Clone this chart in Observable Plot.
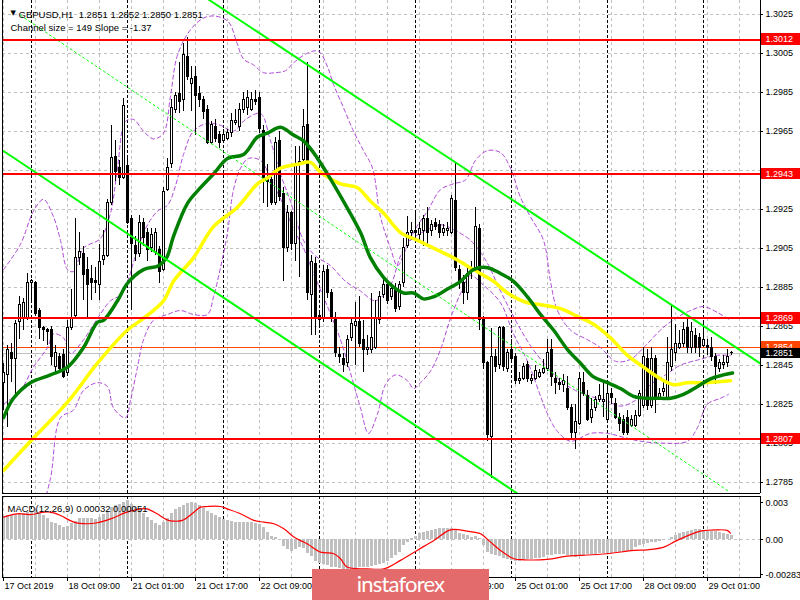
<!DOCTYPE html>
<html><head><meta charset="utf-8">
<script src="https://cdn.jsdelivr.net/npm/d3@7"></script>
<script src="https://cdn.jsdelivr.net/npm/@observablehq/plot@0.6"></script>
<style>
body{margin:0;background:#fff;}
#wrap{position:relative;width:800px;height:600px;overflow:hidden;background:#fff;font-family:"Liberation Sans",Arial,sans-serif;}
#wrap svg{position:absolute;left:0;}
#logo{position:absolute;left:312px;top:569px;width:177px;height:31px;background:#e36b6b;color:#fff;font-family:Lato,"Open Sans",sans-serif;font-size:22px;letter-spacing:-0.8px;text-align:center;line-height:30px;}
</style></head><body><div id="wrap"><div id="logo">instaforex</div></div>
<script>
// ---------- DATA ----------
const opens = [1.2836,1.2840,1.2851,1.2848,1.2867,1.2869,1.2869,1.2887,1.2887,1.2873,
1.2864,1.2863,1.2863,1.2844,1.2849,1.2850,1.2841,1.2864,1.2870,1.2900,
1.2902,1.2894,1.2889,1.2888,1.2886,1.2899,1.2901,1.2928,1.2952,1.2946,
1.2941,1.2947,1.2920,1.2906,1.2902,1.2918,1.2913,1.2905,1.2903,1.2904,
1.2894,1.2935,1.2948,1.2976,1.2984,1.2981,1.3003,1.2989,1.2993,1.2984,
1.2981,1.2976,1.2959,1.2967,1.2963,1.2960,1.2961,1.2964,1.2969,1.2967,
1.2976,1.2977,1.2976,1.2981,1.2982,1.2965,1.2941,1.2940,1.2928,1.2960,
1.2933,1.2905,1.2923,1.2907,1.2948,1.2950,1.2968,1.2881,1.2897,1.2870,
1.2869,1.2894,1.2882,1.2869,1.2850,1.2848,1.2846,1.2859,1.2865,1.2867,
1.2858,1.2853,1.2853,1.2854,1.2868,1.2881,1.2886,1.2880,1.2884,1.2875,
1.2887,1.2906,1.2913,1.2914,1.2912,1.2914,1.2920,1.2914,1.2918,1.2917,
1.2913,1.2914,1.2913,1.2929,1.2894,1.2887,1.2882,1.2893,1.2894,1.2915,
1.2869,1.2846,1.2808,1.2849,1.2845,1.2864,1.2843,1.2853,1.2849,1.2837,
1.2838,1.2845,1.2837,1.2838,1.2839,1.2841,1.2843,1.2853,1.2838,1.2836,
1.2835,1.2833,1.2823,1.2810,1.2815,1.2836,1.2829,1.2818,1.2823,1.2827,
1.2826,1.2817,1.2830,1.2825,1.2818,1.2817,1.2818,1.2814,1.2814,1.2819,
1.2824,1.2848,1.2824,1.2848,1.2828,1.2831,1.2828,1.2844,1.2851,1.2854,
1.2856,1.2864,1.2854,1.2860,1.2859,1.2855,1.2855,1.2854,1.2849,1.2843,
1.2845,1.2846,1.2851];
const closes = [1.2841,1.2853,1.2848,1.2866,1.2876,1.2877,1.2887,1.2888,1.2871,1.2864,
1.2863,1.2862,1.2849,1.2851,1.2843,1.2839,1.2864,1.2869,1.2900,1.2903,
1.2891,1.2886,1.2887,1.2887,1.2898,1.2901,1.2928,1.2951,1.2944,1.2941,
1.2978,1.2918,1.2907,1.2902,1.2918,1.2910,1.2904,1.2912,1.2913,1.2893,
1.2934,1.2946,1.2977,1.2983,1.2980,1.3004,1.2993,1.2992,1.2983,1.2981,
1.2975,1.2959,1.2968,1.2961,1.2959,1.2963,1.2964,1.2970,1.2970,1.2976,
1.2981,1.2982,1.2981,1.2980,1.2966,1.2941,1.2939,1.2928,1.2959,1.2931,
1.2905,1.2923,1.2907,1.2948,1.2949,1.2967,1.2882,1.2898,1.2869,1.2868,
1.2893,1.2882,1.2869,1.2851,1.2849,1.2845,1.2858,1.2866,1.2867,1.2856,
1.2853,1.2854,1.2859,1.2869,1.2880,1.2886,1.2878,1.2884,1.2874,1.2886,
1.2905,1.2913,1.2914,1.2913,1.2915,1.2920,1.2913,1.2917,1.2916,1.2913,
1.2915,1.2915,1.2930,1.2895,1.2887,1.2882,1.2892,1.2894,1.2916,1.2868,
1.2846,1.2809,1.2849,1.2844,1.2864,1.2844,1.2851,1.2848,1.2837,1.2838,
1.2844,1.2838,1.2838,1.2842,1.2841,1.2843,1.2851,1.2839,1.2836,1.2835,
1.2837,1.2823,1.2810,1.2816,1.2838,1.2830,1.2817,1.2822,1.2827,1.2829,
1.2827,1.2830,1.2828,1.2818,1.2815,1.2810,1.2810,1.2817,1.2819,1.2830,
1.2849,1.2824,1.2848,1.2828,1.2830,1.2833,1.2846,1.2853,1.2856,1.2856,
1.2863,1.2854,1.2862,1.2854,1.2854,1.2858,1.2854,1.2849,1.2844,1.2846,
1.2846,1.2849,1.2851];
const highs = [1.2846,1.2855,1.2856,1.2868,1.2880,1.2879,1.2892,1.2889,1.2888,1.2874,
1.2865,1.2864,1.2865,1.2855,1.2851,1.2853,1.2868,1.2884,1.2920,1.2913,
1.2906,1.2900,1.2896,1.2895,1.2907,1.2914,1.2930,1.2968,1.2960,1.2950,
1.2982,1.2951,1.2922,1.2911,1.2922,1.2920,1.2915,1.2915,1.2915,1.2906,
1.2936,1.2951,1.2981,1.2985,1.3000,1.3010,1.3013,1.2998,1.2998,1.2988,
1.2983,1.2978,1.2970,1.2971,1.2965,1.2966,1.2966,1.2974,1.2976,1.2979,
1.2985,1.2986,1.2985,1.2986,1.2985,1.2968,1.2948,1.2942,1.2962,1.2965,
1.2936,1.2927,1.2924,1.2957,1.2957,1.2976,1.3000,1.2901,1.2900,1.2873,
1.2896,1.2896,1.2884,1.2872,1.2854,1.2851,1.2860,1.2869,1.2877,1.2880,
1.2868,1.2860,1.2882,1.2878,1.2883,1.2890,1.2888,1.2887,1.2887,1.2888,
1.2910,1.2921,1.2918,1.2923,1.2918,1.2922,1.2926,1.2919,1.2920,1.2919,
1.2917,1.2918,1.2932,1.2949,1.2896,1.2891,1.2895,1.2898,1.2926,1.2917,
1.2870,1.2847,1.2864,1.2853,1.2865,1.2865,1.2853,1.2858,1.2851,1.2841,
1.2846,1.2847,1.2840,1.2845,1.2843,1.2848,1.2858,1.2858,1.2841,1.2838,
1.2840,1.2839,1.2825,1.2825,1.2841,1.2841,1.2832,1.2828,1.2829,1.2835,
1.2836,1.2836,1.2833,1.2828,1.2820,1.2819,1.2822,1.2819,1.2822,1.2832,
1.2854,1.2853,1.2854,1.2850,1.2833,1.2836,1.2859,1.2875,1.2866,1.2863,
1.2867,1.2869,1.2867,1.2864,1.2861,1.2867,1.2858,1.2859,1.2851,1.2848,
1.2850,1.2853,1.2852];
const lows = [1.2822,1.2813,1.2836,1.2829,1.2858,1.2863,1.2868,1.2878,1.2870,1.2858,
1.2857,1.2855,1.2845,1.2841,1.2841,1.2838,1.2839,1.2863,1.2869,1.2896,
1.2878,1.2869,1.2878,1.2882,1.2878,1.2896,1.2900,1.2927,1.2939,1.2937,
1.2940,1.2917,1.2873,1.2898,1.2900,1.2906,1.2898,1.2903,1.2901,1.2887,
1.2893,1.2934,1.2946,1.2974,1.2974,1.2975,1.2991,1.2975,1.2963,1.2977,
1.2971,1.2958,1.2958,1.2959,1.2956,1.2959,1.2960,1.2962,1.2968,1.2965,
1.2974,1.2973,1.2975,1.2978,1.2964,1.2928,1.2926,1.2927,1.2927,1.2929,
1.2888,1.2903,1.2904,1.2898,1.2890,1.2949,1.2878,1.2860,1.2860,1.2864,
1.2867,1.2879,1.2867,1.2849,1.2846,1.2841,1.2844,1.2857,1.2845,1.2854,
1.2841,1.2850,1.2851,1.2853,1.2866,1.2879,1.2876,1.2878,1.2872,1.2873,
1.2885,1.2905,1.2909,1.2910,1.2909,1.2906,1.2907,1.2911,1.2914,1.2910,
1.2911,1.2911,1.2912,1.2893,1.2884,1.2876,1.2878,1.2889,1.2893,1.2863,
1.2843,1.2806,1.2787,1.2841,1.2843,1.2842,1.2841,1.2846,1.2835,1.2835,
1.2837,1.2836,1.2835,1.2837,1.2838,1.2840,1.2842,1.2834,1.2830,1.2832,
1.2831,1.2822,1.2807,1.2802,1.2814,1.2829,1.2816,1.2815,1.2821,1.2826,
1.2818,1.2815,1.2825,1.2817,1.2811,1.2809,1.2809,1.2813,1.2813,1.2818,
1.2823,1.2822,1.2823,1.2820,1.2827,1.2829,1.2827,1.2842,1.2847,1.2853,
1.2854,1.2851,1.2851,1.2851,1.2849,1.2854,1.2850,1.2847,1.2835,1.2841,
1.2843,1.2844,1.2850];

// moving averages [bar, price]
const maGreen = [[0,1.2818],[2.5,1.2828],[6.75,1.2836],[11.75,1.2840],[16,1.2844],[20,1.2854],[23.5,1.2867],[25,1.2868],[28.5,1.2878],[31,1.2887],[35,1.2894],[38.75,1.2896],[40.75,1.2900],[42.5,1.2911],[46,1.2928],[49.25,1.2936],[52.5,1.2943],[56,1.2951],[60,1.2953],[63.5,1.2962],[66,1.2964],[69.25,1.2967],[72.5,1.2963],[75,1.2960],[77.5,1.2954],[81,1.2943],[85,1.2929],[89.25,1.2913],[91.75,1.2900],[95,1.2890],[97.5,1.2885],[100,1.2882],[102.5,1.2882],[105,1.2879],[107.5,1.2880],[111,1.2884],[114.25,1.2888],[117.5,1.2894],[121,1.2895],[124.25,1.2892],[127.5,1.2888],[131,1.2880],[134.25,1.2871],[137.5,1.2863],[141,1.2853],[144.25,1.2846],[147.5,1.2839],[151,1.2836],[154.25,1.2833],[157.5,1.2829],[161,1.2828],[164.25,1.2828],[166.75,1.2828],[170,1.2830],[173.5,1.2834],[176.75,1.2838],[180,1.2840],[182.25,1.2841]];
const maYellow = [[0,1.2791],[6.75,1.2806],[16,1.2826],[23.5,1.2846],[31,1.2863],[35,1.2869],[40,1.2878],[42.5,1.2888],[47.5,1.2900],[52.5,1.2916],[58.5,1.2926],[63.5,1.2938],[66,1.2941],[69.25,1.2946],[73.5,1.2948],[76.75,1.2949],[79.25,1.2944],[84.25,1.2938],[88.5,1.2936],[91.75,1.2929],[95,1.2923],[99.25,1.2913],[103.5,1.2909],[107.5,1.2905],[112.5,1.2900],[117.5,1.2894],[122.5,1.2888],[126,1.2882],[131,1.2877],[134.25,1.2876],[139.25,1.2874],[143.5,1.2870],[147.5,1.2866],[151.75,1.2859],[156,1.2850],[160,1.2844],[164.25,1.2838],[167.5,1.2835],[171,1.2836],[175,1.2836],[181.75,1.2837]];
// bollinger bands [bar, price]
const bbUpper = [[0,1.2894],[4.25,1.2907],[7.5,1.2924],[10,1.2930],[12.5,1.2921],[14.25,1.2909],[16,1.2894],[17.5,1.2893],[20,1.2905],[24.25,1.2910],[26.75,1.2923],[28.5,1.2946],[30.5,1.2970],[32.5,1.2971],[35,1.2965],[37.5,1.2961],[40,1.2964],[41.75,1.2983],[43.5,1.3004],[46.75,1.3017],[50,1.3023],[53,1.3024],[56.25,1.3021],[58.25,1.3011],[60,1.3002],[62.5,1.2999],[65,1.2995],[68,1.2995],[70.5,1.2996],[72.5,1.3000],[76,1.3005],[78.75,1.3006],[81,1.2998],[82.5,1.2989],[85,1.2977],[87.5,1.2965],[90,1.2955],[92.25,1.2946],[94.25,1.2921],[96.75,1.2905],[98.5,1.2896],[100.5,1.2904],[103,1.2915],[106,1.2924],[109.25,1.2935],[112.5,1.2938],[115.5,1.2940],[118,1.2950],[121,1.2955],[124.25,1.2954],[126.75,1.2946],[129.25,1.2931],[131.75,1.2921],[135,1.2909],[136.75,1.2888],[138.5,1.2873],[141.75,1.2863],[146,1.2858],[149.25,1.2854],[153,1.2847],[156.75,1.2848],[160.5,1.2855],[164.25,1.2863],[168,1.2869],[171.75,1.2873],[175,1.2875],[178.5,1.2872],[181.75,1.2868]];
const bbMiddle = [[0,1.2825],[4.25,1.2832],[7.5,1.2844],[11,1.2854],[12.5,1.2861],[15,1.2859],[16.75,1.2851],[20,1.2858],[23.5,1.2869],[26.75,1.2878],[29.25,1.2881],[31,1.2888],[33,1.2901],[35.5,1.2915],[38.5,1.2924],[41,1.2927],[43,1.2937],[45,1.2953],[47.5,1.2965],[51,1.2969],[54.25,1.2968],[57.5,1.2965],[60.5,1.2971],[64.25,1.2974],[66.75,1.2960],[69.25,1.2943],[71.75,1.2929],[75,1.2909],[78,1.2901],[81.75,1.2896],[85.5,1.2888],[89.25,1.2883],[93,1.2878],[96.75,1.2886],[99.25,1.2901],[101.75,1.2909],[105.5,1.2914],[109.25,1.2917],[113,1.2914],[116.75,1.2909],[120.5,1.2899],[124.25,1.2883],[128,1.2868],[131.75,1.2855],[135.5,1.2845],[139.25,1.2837],[143,1.2832],[146.75,1.2829],[150.5,1.2827],[154.25,1.2824],[158,1.2827],[161.75,1.2835],[165.5,1.2840],[169.25,1.2845],[174.25,1.2848],[178,1.2850],[181.75,1.2850]];
const bbLower = [[9.25,1.2768],[11.75,1.2787],[14.25,1.2818],[17.5,1.2822],[20,1.2832],[23.5,1.2836],[26,1.2834],[27.5,1.2823],[30.5,1.2818],[31.75,1.2827],[33.5,1.2844],[35,1.2858],[37.5,1.2868],[41,1.2871],[44.25,1.2873],[47.5,1.2871],[51,1.2871],[52.5,1.2880],[54.25,1.2895],[56,1.2913],[57.5,1.2935],[59.25,1.2946],[61.25,1.2951],[64.25,1.2950],[66.75,1.2941],[70,1.2927],[72.5,1.2915],[75,1.2905],[77.5,1.2892],[81,1.2875],[84.25,1.2858],[86.75,1.2841],[89.25,1.2823],[91.25,1.2810],[93.5,1.2820],[95.5,1.2835],[98,1.2840],[101,1.2837],[102.5,1.2833],[104.25,1.2836],[106.75,1.2842],[109.25,1.2853],[111.75,1.2869],[115,1.2885],[116.75,1.2891],[120,1.2886],[124.25,1.2877],[127.5,1.2861],[131,1.2847],[136,1.2820],[138.5,1.2811],[141.75,1.2806],[146.75,1.2810],[151,1.2810],[155,1.2808],[159.25,1.2806],[165,1.2805],[171,1.2806],[173.5,1.2813],[176,1.2825],[179.25,1.2828],[181.25,1.2830]];
// regression channel [bar, price]
const channelUpper = [[50,1.30342],[189.25,1.28458]];
const channelMiddle = [[4.25,1.30244],[181,1.27807]];
const channelLower = [[0,1.29548],[130,1.27771]];
// horizontal levels
const levels = [1.3012, 1.2943, 1.2869, 1.2807];
const askPrice = 1.2854;
const bidPrice = 1.2851;
const priceTicks = [1.3025,1.3005,1.2985,1.2965,1.2945,1.2925,1.2905,1.2885,1.2865,1.2845,1.2825,1.2805,1.2785];
const hiddenPriceLabels = [1.2945];
// time axis
const gridIdx = [0,8,16,24,32,40,48,56,64,72,80,88,96,104,112,120,128,136,144,152,160,168,176,184];
const daySepIdx = [7,31,55,79,103,127,151,175];
const timeTickIdx = [0,16,32,48,64,80,96,112,128,144,160,176];
const timeTickLabels = ["17 Oct 2019","18 Oct 09:00","21 Oct 01:00","21 Oct 17:00","22 Oct 09:00","23 Oct 01:00","23 Oct 17:00","24 Oct 09:00","25 Oct 01:00","25 Oct 17:00","28 Oct 09:00","29 Oct 01:00"];
const labelsUnderLogo = ["23 Oct 01:00","23 Oct 17:00"];
// MACD
const macdHist = [0.00189,0.00194,0.0020,0.00205,0.00211,0.00216,0.00221,0.00232,0.00238,0.00224,
0.00197,0.0017,0.00143,0.0013,0.00116,0.00103,0.00108,0.0013,0.00151,0.0017,
0.00173,0.00173,0.00173,0.00167,0.00178,0.00205,0.00232,0.00259,0.00275,0.00286,
0.00305,0.00319,0.00286,0.00259,0.00238,0.00211,0.00184,0.00157,0.00135,0.00119,
0.0014,0.00173,0.00211,0.00243,0.00259,0.00281,0.00297,0.00302,0.00297,0.00281,
0.00254,0.00232,0.00216,0.0020,0.00184,0.00167,0.00157,0.00151,0.00143,0.0014,
0.0014,0.0014,0.0014,0.00135,0.00124,0.00097,0.00062,0.00027,0.00016,0.00005,
-0.00054,-0.00081,-0.00097,-0.00081,-0.00065,-0.00073,-0.00113,-0.00135,-0.00173,-0.00189,
-0.0020,-0.00211,-0.00221,-0.00227,-0.00232,-0.00238,-0.00238,-0.00238,-0.00232,-0.00227,
-0.00227,-0.00221,-0.00216,-0.00211,-0.0020,-0.00189,-0.00173,-0.00154,-0.00127,-0.00103,
-0.00046,-0.00019,0.00008,0.0003,0.00049,0.00057,0.00065,0.00076,0.00084,0.00089,
0.00092,0.00095,0.00092,0.00076,0.00054,0.00041,0.00032,0.00022,0.00027,0.00008,
-0.00046,-0.001,-0.00119,-0.0013,-0.00135,-0.00149,-0.00159,-0.00167,-0.00173,-0.00173,
-0.00167,-0.00162,-0.00157,-0.00154,-0.00149,-0.0014,-0.0013,-0.00124,-0.00122,-0.00119,
-0.00119,-0.00124,-0.00135,-0.0014,-0.0013,-0.00124,-0.00122,-0.00119,-0.00116,-0.00113,
-0.00113,-0.00108,-0.00108,-0.00103,-0.00103,-0.001,-0.00097,-0.00086,-0.00065,-0.00046,
-0.00038,-0.00032,-0.00019,-0.00019,-0.00011,-0.00005,0.00005,0.00022,0.00035,0.00049,
0.00059,0.00068,0.00076,0.00081,0.00081,0.00078,0.00073,0.0007,0.00065,0.00059,
0.00054,0.00043,0.00032];
const macdSignal = [[0,0.00184],[3.4,0.00211],[6.75,0.00205],[10.1,0.00224],[11.75,0.00224],[14.25,0.00197],[17.6,0.00143],[20.9,0.0013],[23.4,0.00138],[26.75,0.0017],[30.9,0.00224],[34.25,0.00251],[35.9,0.00251],[38.4,0.00211],[40.9,0.00162],[42.6,0.00151],[44.7,0.00157],[47.6,0.00224],[49.25,0.00265],[50.9,0.0027],[54.25,0.0027],[55.9,0.00251],[59.25,0.00211],[62.6,0.00157],[65.1,0.00143],[67.6,0.0013],[70.1,0.00089],[72.6,0.00022],[75.9,-0.00032],[79.25,-0.001],[82.6,-0.00113],[84.25,-0.00154],[85.9,-0.00221],[90.9,-0.00235],[95.1,-0.00235],[99.25,-0.00167],[103.4,-0.00086],[107.6,-0.00005],[111.75,0.00081],[115.9,0.0007],[119.25,0.00049],[121.75,-0.00019],[124.25,-0.00086],[127.6,-0.00154],[130.1,-0.00162],[135.9,-0.00159],[140.9,-0.00132],[144.25,-0.00127],[150.9,-0.00113],[157.6,-0.00086],[160.9,-0.00081],[165.1,-0.00059],[168.4,-0.00005],[174.25,0.0007],[178.4,0.00081],[180.9,0.00076],[181.75,0.00054]];
const macdTicks = [0.003, 0, -0.00283];
const macdTickLabels = ["0.003","0.00","-0.00283"];
// texts
const headerText = "GBPUSD,H1  1.2851 1.2852 1.2850 1.2851";
const channelText = "Channel size = 149 Slope = -1.37";
const macdTitle = "MACD(12,26,9) 0.00032 0.00051";

// ---------- CHART ----------
const X_DOMAIN = [-0.25, 189.25];
const PRICE_DOMAIN = [1.277918, 1.3032];
const MACD_DOMAIN = [-0.003057, 0.003511];
const font = "'Liberation Sans', Arial, sans-serif";
const candles = opens.map((o, i) => ({i, o, h: highs[i], l: lows[i], c: closes[i]}));
const bulls = candles.filter(d => d.c >= d.o);
const bears = candles.filter(d => d.c < d.o);
const px = d => d[0], py = d => d[1];
const body = {x1: d => d.i - 0.25, x2: d => d.i + 0.25, y1: "o", y2: d => d.c === d.o ? d.o + 0.00002 : d.c, stroke: "#000", strokeWidth: 1};
const AX = 189.25;
const bandStyle = {stroke: "#b048d8", strokeWidth: 1, strokeDasharray: "4,3", curve: "catmull-rom", clip: true};
const tickShown = priceTicks.filter(t => !hiddenPriceLabels.includes(t));
const timeShown = timeTickIdx.map((d, k) => ({d, label: timeTickLabels[k]})).filter(t => !labelsUnderLogo.includes(t.label));

const main = Plot.plot({
  width: 800, height: 495,
  marginLeft: 2, marginRight: 40, marginTop: 0, marginBottom: 2,
  x: {domain: X_DOMAIN, axis: null},
  y: {domain: PRICE_DOMAIN, axis: null},
  style: {background: "transparent", fontFamily: font, fontSize: "9px", overflow: "visible"},
  marks: [
    Plot.ruleY(priceTicks, {stroke: "#c0c0c0", strokeDasharray: "3,3"}),
    Plot.ruleX(gridIdx, {stroke: "#c0c0c0", strokeDasharray: "3,3"}),
    Plot.ruleX(daySepIdx, {stroke: "#000", strokeDasharray: "3,2"}),
    Plot.ruleY([askPrice], {stroke: "#ff4500"}),
    Plot.ruleY([bidPrice], {stroke: "#c0c0c0"}),
    Plot.line(bbUpper, {x: px, y: py, ...bandStyle}),
    Plot.line(bbMiddle, {x: px, y: py, ...bandStyle}),
    Plot.line(bbLower, {x: px, y: py, ...bandStyle}),
    Plot.ruleX(candles, {x: "i", y1: "l", y2: "h", stroke: "#000"}),
    Plot.rect(bulls, {...body, fill: "#fff"}),
    Plot.rect(bears, {...body, fill: "#000"}),
    Plot.line(maYellow, {x: px, y: py, stroke: "#ffff00", strokeWidth: 3.5, curve: "catmull-rom", clip: true}),
    Plot.line(maGreen, {x: px, y: py, stroke: "#008000", strokeWidth: 3.5, curve: "catmull-rom", clip: true}),
    Plot.line(channelUpper, {x: px, y: py, stroke: "#00ff00", strokeWidth: 2, clip: true}),
    Plot.line(channelLower, {x: px, y: py, stroke: "#00ff00", strokeWidth: 2, clip: true}),
    Plot.line(channelMiddle, {x: px, y: py, stroke: "#00ff00", strokeWidth: 1, strokeDasharray: "2,3", clip: true}),
    Plot.ruleY(levels, {stroke: "#ff0000", strokeWidth: 2}),
    Plot.ruleX(X_DOMAIN, {stroke: "#000"}),
    Plot.ruleY([PRICE_DOMAIN[0]], {stroke: "#000"}),
    Plot.ruleY(priceTicks, {x1: AX, x2: AX + 0.75, stroke: "#000"}),
    Plot.text(tickShown, {x: AX + 1.25, y: d => d, text: d => d.toFixed(4), textAnchor: "start", fill: "#000"}),
    Plot.rect(levels, {x1: AX + 0.25, x2: AX + 10.5, y1: d => d - 0.00029, y2: d => d + 0.00029, fill: "#ff0000"}),
    Plot.text(levels, {x: AX + 1.25, y: d => d, text: d => d.toFixed(4), textAnchor: "start", fill: "#fff"}),
    Plot.rect([askPrice], {x1: AX + 0.25, x2: AX + 10.5, y1: d => d - 0.00029, y2: d => d + 0.00029, fill: "#ff4500"}),
    Plot.text([askPrice], {x: AX + 1.25, y: d => d, text: d => d.toFixed(4), textAnchor: "start", fill: "#fff"}),
    Plot.rect([bidPrice], {x1: AX + 0.25, x2: AX + 10.5, y1: d => d - 0.00027, y2: d => d + 0.00027, fill: "#000"}),
    Plot.text([bidPrice], {x: AX + 1.25, y: d => d, text: d => d.toFixed(4), textAnchor: "start", fill: "#fff"}),
    Plot.text(["▼"], {frameAnchor: "top-left", dx: 8, dy: 10, fontSize: 7, fontFamily: "DejaVu Sans", fill: "#000"}),
    Plot.text([headerText], {frameAnchor: "top-left", dx: 16, dy: 11, textAnchor: "start", fontSize: 9.5, fill: "#000"}),
    Plot.text([channelText], {frameAnchor: "top-left", dx: 8, dy: 24, textAnchor: "start", fontSize: 9.5, fill: "#000"})
  ]
});
main.style.top = "0px";

const macd = Plot.plot({
  width: 800, height: 105,
  marginLeft: 2, marginRight: 40, marginTop: 1, marginBottom: 23,
  x: {domain: X_DOMAIN, axis: null},
  y: {domain: MACD_DOMAIN, axis: null},
  style: {background: "transparent", fontFamily: font, fontSize: "9px", overflow: "visible"},
  marks: [
    Plot.ruleX(gridIdx, {stroke: "#c0c0c0", strokeDasharray: "3,3"}),
    Plot.ruleX(daySepIdx, {stroke: "#000", strokeDasharray: "3,2"}),
    Plot.ruleY([0], {stroke: "#c0c0c0", strokeDasharray: "3,3"}),
    Plot.rect(macdHist.map((v, i) => ({i, v})), {x1: d => d.i - 0.375, x2: d => d.i + 0.375, y1: 0, y2: "v", fill: "#c0c0c0"}),
    Plot.line(macdSignal, {x: px, y: py, stroke: "#ff0000", strokeWidth: 1.2, curve: "catmull-rom"}),
    Plot.frame({stroke: "#000"}),
    Plot.ruleY(macdTicks, {x1: AX, x2: AX + 0.75, stroke: "#000"}),
    Plot.text(macdTicks, {x: AX + 1.25, y: d => d, text: (d, i) => macdTickLabels[i], textAnchor: "start", fill: "#000"}),
    Plot.text([macdTitle], {frameAnchor: "top-left", dx: 5, dy: 9, textAnchor: "start", fontSize: 9.5, fill: "#000"}),
    Plot.ruleX(timeTickIdx, {y1: MACD_DOMAIN[0], y2: MACD_DOMAIN[0] - 0.00032, stroke: "#000"}),
    Plot.text(timeShown, {x: "d", frameAnchor: "bottom", dy: 11, dx: 1, text: "label", textAnchor: "start", fill: "#000"})
  ]
});
macd.style.top = "495px";

// crisp, un-antialiased candles and bars like the terminal
for (const svg of [main, macd]) {
  svg.querySelectorAll('g[aria-label="rect"], g[aria-label="rule"]').forEach(g => g.setAttribute("shape-rendering", "crispEdges"));
}

const wrap = document.getElementById("wrap");
wrap.insertBefore(macd, wrap.firstChild);
wrap.insertBefore(main, wrap.firstChild);
</script></body></html>
